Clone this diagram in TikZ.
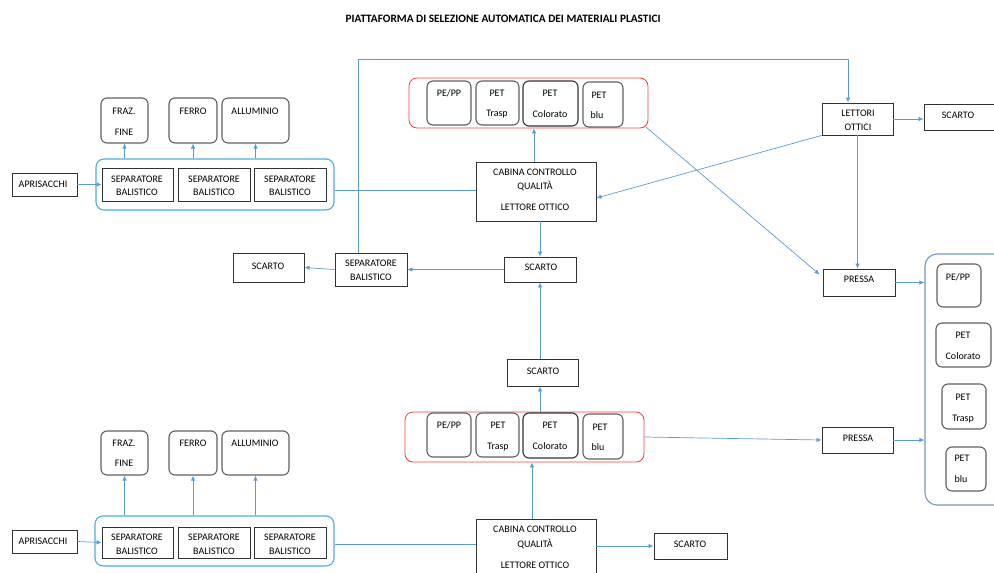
\documentclass[tikz,border=0pt]{standalone}
\usepackage{fontspec}
\setmainfont{Carlito}
\usetikzlibrary{arrows.meta,fit}
\definecolor{cline}{HTML}{5B9BD5}
\definecolor{cblue}{RGB}{75,172,230}
\definecolor{cgblue}{RGB}{115,150,195}
\definecolor{cred}{RGB}{255,60,60}
\definecolor{cgray}{RGB}{95,95,95}
\definecolor{cdark}{RGB}{50,50,50}
\tikzset{
  sqbox/.style={draw=cdark,line width=0.9pt,inner sep=0pt},
  rdbox/.style={draw=cgray,line width=1.1pt,rounded corners=6pt,inner sep=0pt},
  rdkbox/.style={draw=cdark,line width=1.1pt,rounded corners=6pt,inner sep=0pt},
  bluecont/.style={draw=cblue,line width=1.1pt,rounded corners=8pt,inner sep=0pt},
  gbluecont/.style={draw=cgblue,line width=1.1pt,rounded corners=12pt,inner sep=0pt},
  redcont/.style={draw=cred,line width=0.8pt,rounded corners=8pt,inner sep=0pt},
  conline/.style={draw=cline,line width=0.7pt},
  conarr/.style={conline,-{Latex[length=5pt,width=4.5pt]}},
  txt/.style={inner sep=0pt,font=\fontsize{10}{11}\selectfont,text height=6.5pt,text depth=0pt},
  ttl/.style={inner sep=0pt,font=\fontsize{11.3}{12}\selectfont\bfseries}
}
\newcommand\bx[6]{\node[#1,fit={(#3,#4) (#5,#6)}] (#2) {};}
\begin{document}
\begin{tikzpicture}[x=1pt,y=-1pt]
\useasboundingbox (0,0) rectangle (994,573);
\node[ttl] (title) at (503,19) {PIATTAFORMA DI SELEZIONE AUTOMATICA DEI MATERIALI PLASTICI};

% ---------- top left group
\bx{sqbox}{apr1}{12}{173}{77}{196}
\bx{bluecont}{cont1}{96}{159}{334}{210}
\bx{sqbox}{sep1a}{102}{168}{173}{201}
\bx{sqbox}{sep1b}{178}{168}{250}{201}
\bx{sqbox}{sep1c}{254}{168}{326}{201}
\bx{rdbox}{fraz1}{101}{98}{148}{143}
\bx{rdbox}{ferro1}{169}{98}{217}{143}
\bx{rdbox}{allu1}{222}{98}{289}{143}
\node[txt] (apr1t) at (43,184) {APRISACCHI};
\node[txt] (sep1at) at (137,179) {SEPARATORE};
\node[txt] (sep1au) at (137,192) {BALISTICO};
\node[txt] (sep1bt) at (214,179) {SEPARATORE};
\node[txt] (sep1bu) at (214,192) {BALISTICO};
\node[txt] (sep1ct) at (290,179) {SEPARATORE};
\node[txt] (sep1cu) at (290,192) {BALISTICO};
\node[txt] (fraz1t) at (124,111) {FRAZ.};
\node[txt] (fraz1u) at (124,132) {FINE};
\node[txt] (ferro1t) at (193,111) {FERRO};
\node[txt] (allu1t) at (255,111) {ALLUMINIO};

% ---------- top middle
\bx{redcont}{red1}{409}{78}{648}{128}
\bx{rdbox}{pepp1}{427}{81}{471}{125}
\bx{rdbox}{trasp1}{476}{81}{519}{125}
\bx{rdkbox}{col1}{523}{81}{578}{126}
\bx{rdbox}{blu1}{583}{82}{623}{127}
\node[txt] (pepp1t) at (449,93) {PE/PP};
\node[txt] (trasp1t) at (497,93) {PET};
\node[txt] (trasp1u) at (497,113) {Trasp};
\node[txt] (col1t) at (550,93) {PET};
\node[txt] (col1u) at (550,114) {Colorato};
\node[txt] (blu1t) at (599,95) {PET};
\node[txt] (blu1u) at (597,115) {blu};
\bx{sqbox}{cab1}{476}{162}{596}{221}
\node[txt] (cab1t) at (535,172) {CABINA CONTROLLO};
\node[txt] (cab1u) at (535,186) {QUALITÀ};
\node[txt] (cab1v) at (535,207) {LETTORE OTTICO};

% ---------- top right
\bx{sqbox}{lett}{822}{103}{893}{135}
\node[txt] (lettt) at (858,113) {LETTORI};
\node[txt] (lettu) at (858,127) {OTTICI};
\bx{sqbox}{scr}{924}{104}{1000}{130}
\node[txt] (scrt) at (958,115) {SCARTO};

% ---------- middle row
\bx{sqbox}{scl}{233}{253}{304}{282}
\node[txt] (sclt) at (268,266) {SCARTO};
\bx{sqbox}{sepm}{335}{253}{407}{286}
\node[txt] (sepmt) at (371,263) {SEPARATORE};
\node[txt] (sepmu) at (371,277) {BALISTICO};
\bx{sqbox}{scm}{504}{257}{576}{282}
\node[txt] (scmt) at (541,267) {SCARTO};
\bx{sqbox}{scl2}{507}{359}{578}{386}
\node[txt] (scl2t) at (543,371) {SCARTO};

% ---------- right column
\bx{sqbox}{pr1}{823}{269}{895}{296}
\node[txt] (pr1t) at (859,279) {PRESSA};
\bx{sqbox}{pr2}{822}{427}{893}{453}
\node[txt] (pr2t) at (858,438) {PRESSA};
\bx{gbluecont}{rc}{925}{254}{1012}{505}
\bx{rdbox}{rpepp}{937}{264}{981}{307}
\bx{rdbox}{rcol}{936}{323}{991}{367}
\bx{rdbox}{rtrasp}{942}{384}{986}{429}
\bx{rdbox}{rblu}{946}{447}{986}{491}
\node[txt] (rpeppt) at (958,277) {PE/PP};
\node[txt] (rcolt) at (963,335) {PET};
\node[txt] (rcolu) at (963,356) {Colorato};
\node[txt] (rtraspt) at (963,397) {PET};
\node[txt] (rtraspu) at (963,418) {Trasp};
\node[txt] (rblut) at (962,458) {PET};
\node[txt] (rbluu) at (961,479) {blu};

% ---------- bottom
\bx{redcont}{red2}{405}{412}{644}{462}
\bx{rdbox}{pepp2}{427}{413}{471}{457}
\bx{rdbox}{trasp2}{476}{413}{519}{457}
\bx{rdkbox}{col2}{523}{413}{578}{458}
\bx{rdbox}{blu2}{583}{414}{623}{459}
\node[txt] (pepp2t) at (449,425) {PE/PP};
\node[txt] (trasp2t) at (498,425) {PET};
\node[txt] (trasp2u) at (498,446) {Trasp};
\node[txt] (col2t) at (550,425) {PET};
\node[txt] (col2u) at (550,446) {Colorato};
\node[txt] (blu2t) at (600,427) {PET};
\node[txt] (blu2u) at (598,447) {blu};
\bx{sqbox}{cab2}{476}{519}{596}{582}
\node[txt] (cab2t) at (535,529) {CABINA CONTROLLO};
\node[txt] (cab2u) at (535,544) {QUALITÀ};
\node[txt] (cab2v) at (535,565) {LETTORE OTTICO};
\bx{sqbox}{sc3}{654}{533}{727}{559}
\node[txt] (sc3t) at (690,544) {SCARTO};

\bx{sqbox}{apr2}{12}{530}{77}{553}
\bx{bluecont}{cont2}{95}{516}{334}{566}
\bx{sqbox}{sep2a}{102}{527}{173}{558}
\bx{sqbox}{sep2b}{178}{527}{250}{558}
\bx{sqbox}{sep2c}{254}{527}{326}{558}
\bx{rdbox}{fraz2}{101}{431}{148}{475}
\bx{rdbox}{ferro2}{169}{431}{217}{475}
\bx{rdbox}{allu2}{222}{431}{289}{475}
\node[txt] (apr2t) at (43,541) {APRISACCHI};
\node[txt] (sep2at) at (137,537) {SEPARATORE};
\node[txt] (sep2au) at (137,551) {BALISTICO};
\node[txt] (sep2bt) at (214,537) {SEPARATORE};
\node[txt] (sep2bu) at (214,551) {BALISTICO};
\node[txt] (sep2ct) at (290,537) {SEPARATORE};
\node[txt] (sep2cu) at (290,551) {BALISTICO};
\node[txt] (fraz2t) at (124,443) {FRAZ.};
\node[txt] (fraz2u) at (124,463) {FINE};
\node[txt] (ferro2t) at (193,443) {FERRO};
\node[txt] (allu2t) at (255,443) {ALLUMINIO};

% ---------- connectors
\coordinate (tl) at (358,59);
\coordinate (tr) at (848,59);
\draw[conarr] (apr1.east) -- (sep1a.west);
\draw[conarr] (fraz1.south |- cont1.north) -- (fraz1.south);
\draw[conarr] (ferro1.south |- cont1.north) -- (ferro1.south);
\draw[conarr] (allu1.south |- cont1.north) -- (allu1.south);
\draw[conline] (cont1.east |- 0,190) -- (cab1.west |- 0,190);
\draw[conarr] ([xshift=-2pt]cab1.north) -- ([xshift=-2pt]cab1.north |- red1.south);
\draw[conarr] (scm.north |- cab1.south) -- (scm.north);
\draw[conarr] (scm.west) -- (sepm.east);
\draw[conarr] (sepm.west) -- (scl.east);
\draw[conarr] (sepm.north -| tl) -- (tl) -- (tr) -- (tr |- lett.north);
\draw[conarr] (lett.east) -- (lett.east -| scr.west);
\draw[conarr] (lett.south) -- (lett.south |- pr1.north);
\draw[conarr] (lett.south west) -- ([yshift=-6.5pt]cab1.east);
\draw[conarr] ([xshift=-2pt,yshift=1pt]red1.south east) -- ([xshift=-3pt,yshift=8pt]pr1.west);
\draw[conarr] (pr1.east) -- (pr1.east -| rc.west);
\draw[conarr] (scl2.north -| scm.south) -- (scm.south);
\draw[conarr] (red2.north -| scm.south) -- (scl2.south -| scm.south);
\draw[conarr] ([xshift=-4pt]cab2.north) -- ([xshift=-4pt]cab2.north |- red2.south);
\draw[conline] (cont2.east |- 0,544) -- (cab2.west |- 0,544);
\draw[conarr] (cab2.east |- sc3.west) -- (sc3.west);
\draw[conarr] (red2.east) -- (pr2.west);
\draw[conarr] (pr2.east) -- (pr2.east -| rc.west);
\draw[conarr] (apr2.east) -- (sep2a.west);
\draw[conarr] (fraz2.south |- cont2.north) -- (fraz2.south);
\draw[conarr] (ferro2.south |- cont2.north) -- (ferro2.south);
\draw[conarr] (allu2.south |- cont2.north) -- (allu2.south);
\end{tikzpicture}
\end{document}
